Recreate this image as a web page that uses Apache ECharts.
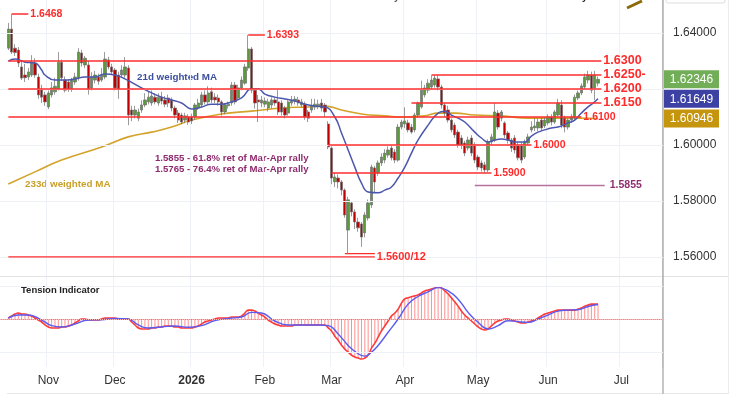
<!DOCTYPE html>
<html><head><meta charset="utf-8">
<script src="https://cdn.jsdelivr.net/npm/echarts@6/dist/echarts.min.js"></script>
<style>html,body{margin:0;padding:0;background:#fff;}#c{width:735px;height:400px;}</style>
</head><body><div id="c"></div>
<script>
// ---- categories: weekday dates ----
const START = [2025, 9, 14], END = [2026, 6, 17];
const FIRST = 2; // index of first candle
const monthNames = ['Jan','Feb','Mar','Apr','May','Jun','Jul','Aug','Sep','Oct','Nov','Dec'];

// ---- OHLC: [open, close, low, high] ----
const candles = [
[1.6346,1.6414,1.6339,1.6436],[1.6414,1.6332,1.6325,1.6468],[1.6346,1.6330,1.6318,1.6360],[1.6339,1.6293,1.6279,1.6350],
[1.6279,1.6239,1.6232,1.6304],[1.6250,1.6240,1.6225,1.6290],[1.6243,1.6261,1.6232,1.6275],[1.6250,1.6296,1.6243,1.6321],
[1.6293,1.6250,1.6240,1.6310],[1.6243,1.6179,1.6165,1.6255],[1.6200,1.6171,1.6150,1.6215],[1.6179,1.6154,1.6140,1.6190],
[1.6136,1.6186,1.6128,1.6195],[1.6179,1.6204,1.6170,1.6225],[1.6190,1.6210,1.6180,1.6240],
[1.6200,1.6296,1.6195,1.6332],[1.6296,1.6240,1.6230,1.6305],[1.6232,1.6196,1.6188,1.6245],[1.6225,1.6198,1.6190,1.6235],
[1.6200,1.6232,1.6190,1.6240],[1.6225,1.6243,1.6215,1.6258],[1.6239,1.6332,1.6230,1.6346],[1.6329,1.6293,1.6280,1.6340],
[1.6286,1.6310,1.6275,1.6318],[1.6286,1.6200,1.6180,1.6300],[1.6204,1.6243,1.6195,1.6260],
[1.6232,1.6250,1.6220,1.6265],[1.6243,1.6228,1.6215,1.6255],[1.6232,1.6250,1.6225,1.6275],[1.6243,1.6307,1.6235,1.6332],
[1.6304,1.6279,1.6270,1.6315],[1.6279,1.6261,1.6250,1.6290],[1.6268,1.6204,1.6195,1.6275],[1.6250,1.6200,1.6165,1.6262],
[1.6250,1.6268,1.6240,1.6285],[1.6250,1.6279,1.6240,1.6314],[1.6275,1.6107,1.6071,1.6285],
[1.6125,1.6107,1.6085,1.6140],[1.6107,1.6125,1.6095,1.6140],[1.6096,1.6118,1.6085,1.6130],[1.6125,1.6143,1.6115,1.6160],
[1.6143,1.6161,1.6135,1.6185],[1.6154,1.6171,1.6145,1.6190],[1.6150,1.6175,1.6140,1.6195],[1.6171,1.6154,1.6145,1.6185],
[1.6150,1.6171,1.6140,1.6185],[1.6171,1.6157,1.6145,1.6190],[1.6161,1.6146,1.6135,1.6175],
[1.6168,1.6150,1.6135,1.6180],[1.6161,1.6132,1.6120,1.6170],[1.6132,1.6107,1.6095,1.6140],[1.6114,1.6089,1.6078,1.6125],
[1.6107,1.6082,1.6075,1.6115],[1.6089,1.6104,1.6078,1.6115],[1.6100,1.6082,1.6072,1.6110],[1.6100,1.6086,1.6075,1.6112],
[1.6100,1.6143,1.6090,1.6150],[1.6132,1.6150,1.6125,1.6165],[1.6143,1.6179,1.6135,1.6190],[1.6179,1.6154,1.6145,1.6195],
[1.6154,1.6186,1.6145,1.6210],[1.6190,1.6161,1.6150,1.6205],[1.6171,1.6161,1.6150,1.6185],[1.6168,1.6154,1.6140,1.6180],
[1.6154,1.6118,1.6105,1.6160],[1.6118,1.6143,1.6110,1.6150],[1.6140,1.6146,1.6130,1.6155],[1.6150,1.6214,1.6140,1.6225],
[1.6214,1.6154,1.6145,1.6225],[1.6168,1.6204,1.6160,1.6215],[1.6204,1.6232,1.6195,1.6245],[1.6221,1.6279,1.6215,1.6290],
[1.6275,1.6343,1.6265,1.6393],[1.6343,1.6196,1.6185,1.6350],[1.6196,1.6150,1.6130,1.6200],[1.6161,1.6154,1.6082,1.6179],
[1.6150,1.6161,1.6135,1.6175],[1.6146,1.6157,1.6135,1.6170],[1.6132,1.6154,1.6120,1.6165],[1.6143,1.6161,1.6130,1.6170],
[1.6161,1.6150,1.6140,1.6170],[1.6154,1.6118,1.6107,1.6196],[1.6150,1.6118,1.6105,1.6160],[1.6132,1.6107,1.6095,1.6140],
[1.6114,1.6154,1.6105,1.6160],[1.6150,1.6161,1.6140,1.6175],[1.6157,1.6164,1.6145,1.6175],[1.6161,1.6150,1.6140,1.6172],
[1.6143,1.6154,1.6135,1.6165],[1.6146,1.6100,1.6090,1.6155],[1.6118,1.6096,1.6082,1.6125],[1.6125,1.6140,1.6115,1.6165],
[1.6136,1.6146,1.6125,1.6165],[1.6140,1.6146,1.6128,1.6162],[1.6150,1.6132,1.6120,1.6165],[1.6143,1.6118,1.6100,1.6150],
[1.6075,1.5993,1.5985,1.6085],[1.5989,1.5882,1.5860,1.5995],[1.5868,1.5886,1.5850,1.5900],[1.5882,1.5868,1.5845,1.5895],
[1.5868,1.5839,1.5820,1.5875],[1.5839,1.5750,1.5740,1.5845],[1.5696,1.5804,1.5612,1.5815],[1.5793,1.5761,1.5745,1.5800],
[1.5761,1.5725,1.5700,1.5770],[1.5725,1.5704,1.5690,1.5740],[1.5718,1.5671,1.5636,1.5725],[1.5686,1.5750,1.5670,1.5760],
[1.5739,1.5793,1.5730,1.5805],[1.5786,1.5921,1.5775,1.5930],[1.5918,1.5868,1.5830,1.5925],[1.5900,1.5936,1.5890,1.5945],
[1.5936,1.5957,1.5925,1.5970],[1.5946,1.5971,1.5935,1.5985],[1.5964,1.5982,1.5955,1.5995],[1.5989,1.5954,1.5945,1.6000],
[1.5975,1.5946,1.5935,1.5985],[1.5946,1.6064,1.5940,1.6075],[1.6064,1.6082,1.6055,1.6090],[1.6075,1.6086,1.6060,1.6135],
[1.6079,1.6054,1.6045,1.6090],[1.6064,1.6046,1.6040,1.6075],[1.6054,1.6107,1.6045,1.6115],[1.6107,1.6150,1.6100,1.6155],
[1.6136,1.6196,1.6130,1.6230],[1.6179,1.6204,1.6170,1.6215],[1.6196,1.6221,1.6185,1.6235],[1.6207,1.6232,1.6200,1.6248],
[1.6214,1.6239,1.6205,1.6250],[1.6236,1.6207,1.6195,1.6250],[1.6207,1.6143,1.6130,1.6215],[1.6143,1.6114,1.6100,1.6150],
[1.6125,1.6089,1.6080,1.6140],[1.6089,1.6054,1.6045,1.6095],[1.6071,1.6036,1.6025,1.6080],[1.6046,1.6000,1.5990,1.6055],
[1.6025,1.6000,1.5985,1.6035],[1.6007,1.5971,1.5960,1.6015],[1.5989,1.6018,1.5980,1.6030],[1.6025,1.5971,1.5960,1.6035],
[1.6000,1.5946,1.5935,1.6010],[1.5957,1.5921,1.5910,1.5965],[1.5936,1.5918,1.5905,1.5945],[1.5929,1.5911,1.5900,1.5940],
[1.5911,1.6011,1.5903,1.6020],[1.6011,1.6029,1.6000,1.6040],[1.6018,1.6118,1.6010,1.6150],[1.6114,1.6064,1.6055,1.6125],
[1.6096,1.6118,1.6085,1.6125],[1.6079,1.6036,1.6025,1.6085],[1.6043,1.6018,1.6005,1.6050],[1.6018,1.5989,1.5975,1.6025],
[1.6025,1.5982,1.5970,1.6035],[1.6000,1.5954,1.5945,1.6010],[1.6000,1.5946,1.5935,1.6010],[1.5957,1.6011,1.5950,1.6020],
[1.6007,1.6029,1.6000,1.6040],[1.6054,1.6064,1.6045,1.6085],[1.6061,1.6068,1.6050,1.6095],[1.6061,1.6082,1.6050,1.6095],
[1.6089,1.6061,1.6050,1.6100],[1.6068,1.6089,1.6060,1.6100],[1.6079,1.6100,1.6070,1.6110],[1.6100,1.6082,1.6070,1.6110],
[1.6082,1.6118,1.6075,1.6125],[1.6107,1.6150,1.6100,1.6165],[1.6143,1.6071,1.6060,1.6160],[1.6096,1.6064,1.6045,1.6105],
[1.6064,1.6089,1.6055,1.6095],[1.6089,1.6100,1.6080,1.6110],[1.6100,1.6171,1.6090,1.6180],[1.6168,1.6186,1.6160,1.6195],
[1.6186,1.6211,1.6178,1.6220],[1.6207,1.6243,1.6200,1.6255],[1.6232,1.6250,1.6220,1.6265],[1.6250,1.6196,1.6185,1.6262],
[1.6204,1.6250,1.6160,1.6265],[1.6221,1.62346,1.6210,1.6245]
];

// ---- moving averages: [categoryIndex, value] ----
const wma21 = [[2,1.6300],[4,1.6307],[7,1.6296],[10,1.6293],[12,1.6268],[13,1.6250],[16,1.6232],[19,1.6232],[22,1.6236],
[25,1.6243],[28,1.6243],[31,1.6254],[34,1.6250],[37,1.6236],[42,1.6204],[45,1.6186],[48,1.6171],[51,1.6161],[54,1.6150],
[57,1.6129],[60,1.6136],[63,1.6146],[66,1.6146],[69,1.6154],[72,1.6168],[75,1.6200],[77,1.6200],[79,1.6182],[82,1.6171],
[85,1.6164],[88,1.6157],[91,1.6146],[94,1.6139],[97,1.6136],[100,1.6100],[102,1.6043],[104,1.5982],[106,1.5921],[108,1.5864],
[110,1.5832],[113,1.5829],[115,1.5839],[117,1.5850],[119,1.5882],[121,1.5921],[123,1.5971],[125,1.6018],[128,1.6071],
[131,1.6114],[133,1.6121],[135,1.6107],[137,1.6096],[139,1.6082],[142,1.6046],[144,1.6025],[146,1.6011],[148,1.6018],
[150,1.6021],[152,1.6018],[154,1.6011],[157,1.6011],[159,1.6032],[161,1.6046],[163,1.6054],[165,1.6061],[167,1.6064],
[170,1.6079],[172,1.6089],[174,1.6114],[176,1.6136],[178,1.6154],[179,1.61649]];
const wma233 = [[2,1.5861],[10,1.5904],[18,1.5946],[30,1.5993],[38,1.6029],[45,1.6046],[51,1.6064],[57,1.6089],[66,1.6111],
[75,1.6121],[84,1.6132],[92,1.6136],[97,1.6139],[102,1.6125],[108,1.6111],[115,1.6104],[121,1.6100],[127,1.6104],[131,1.6114],
[136,1.6114],[142,1.6107],[150,1.6104],[158,1.6096],[166,1.6096],[173,1.6096],[179,1.60946]];

// ---- Tension indicator (per candle) and its signal line ----
const tension = [0.03,0.09,0.15,0.18,0.15,0.15,0.12,0.09,0.03,-0.03,
-0.09,-0.18,-0.24,-0.27,-0.27,-0.27,-0.24,-0.24,-0.21,-0.18,
-0.12,-0.06,0,0,-0.03,-0.03,-0.03,-0.03,0,0.03,
0.03,0.03,0.03,0,0,0,0,-0.09,-0.18,-0.27,
-0.30,-0.30,-0.30,-0.27,-0.27,-0.24,-0.24,-0.21,-0.21,-0.21,
-0.24,-0.24,-0.27,-0.27,-0.27,-0.27,-0.24,-0.21,-0.15,-0.09,
-0.06,-0.03,0,0.03,0.03,0.03,0.03,0.06,0.06,0.06,
0.09,0.18,0.27,0.27,0.24,0.18,0.12,0.06,-0.03,-0.09,
-0.15,-0.18,-0.21,-0.21,-0.21,-0.21,-0.18,-0.18,-0.18,-0.18,
-0.18,-0.18,-0.18,-0.18,-0.18,-0.18,-0.27,-0.36,-0.52,-0.64,
-0.79,-0.91,-1.0,-1.09,-1.15,-1.18,-1.21,-1.18,-1.09,-0.88,
-0.73,-0.55,-0.36,-0.21,-0.06,0.09,0.18,0.30,0.48,0.61,
0.64,0.67,0.70,0.73,0.79,0.85,0.88,0.91,0.94,0.97,
0.94,0.85,0.76,0.64,0.52,0.39,0.24,0.12,0.03,-0.06,
-0.15,-0.24,-0.30,-0.33,-0.30,-0.21,-0.12,-0.06,-0.03,0,
0,-0.03,-0.06,-0.09,-0.12,-0.12,-0.09,-0.06,-0.03,0.03,
0.09,0.15,0.18,0.21,0.24,0.27,0.27,0.27,0.27,0.27,
0.27,0.30,0.33,0.39,0.42,0.45,0.45,0.45];
const signal = [[2,0.03],[5,0.12],[8,0.12],[12,-0.03],[15,-0.20],[18,-0.24],[22,-0.15],[26,-0.03],[30,-0.02],[34,0.02],
[38,0.0],[41,-0.18],[44,-0.27],[48,-0.24],[52,-0.21],[56,-0.25],[60,-0.20],[64,-0.05],[68,0.02],[72,0.06],[75,0.20],
[78,0.18],[82,-0.06],[86,-0.18],[90,-0.18],[95,-0.18],[98,-0.20],[101,-0.45],[104,-0.80],[107,-1.05],[109,-1.12],
[111,-1.00],[113,-0.80],[116,-0.40],[119,0.0],[122,0.45],[125,0.68],[128,0.82],[131,0.95],[134,0.85],[137,0.60],
[140,0.20],[143,-0.10],[146,-0.30],[149,-0.20],[152,-0.05],[155,-0.08],[158,-0.10],[161,0.0],[164,0.12],[167,0.24],
[170,0.27],[173,0.28],[176,0.38],[179,0.44]];

// ---- axis ticks and annotated levels ----
const yTicks = [1.56, 1.58, 1.60, 1.62, 1.64];
const yTickLabels = [1.56, 1.58, 1.60, 1.64]; // 1.62000 sits under the price tags
const levelValues = [1.6300, 1.6250, 1.6200, 1.6150, 1.6100, 1.6000, 1.5900, 1.5600, 1.5612, 1.6468, 1.6393, 1.5855];
const levelFrom   = [2, 129, 2, 123, 2, 98, 99, 2, 103, 3, 74, 142];
const levelTo     = [180, 180, 180, 180, 174, 159, 147, 112, 112, 8, 79, 181];
const levelText   = ['1.6300','1.6250-','1.6200','1.6150','1.6100','1.6000','1.5900','1.5600/12','','1.6468','1.6393','1.5855'];
const levelSize   = [12.5, 12.5, 12.5, 12.5, 10.5, 10.5, 10.5, 11, 11, 10.5, 10.5, 10.5];
const lastClose = 1.62346, lastWma21 = 1.61649, lastWma233 = 1.60946;

// build categories
const cats = [];
const d = new Date(Date.UTC(START[0], START[1], START[2]));
const endT = Date.UTC(END[0], END[1], END[2]);
while (d.getTime() <= endT) {
  const w = d.getUTCDay();
  if (w !== 0 && w !== 6) cats.push(d.toISOString().slice(0, 10));
  d.setUTCDate(d.getUTCDate() + 1);
}
const isMonthStart = (i) => i > 0 && cats[i].slice(5, 7) !== cats[i - 1].slice(5, 7);
const pad = Array(FIRST).fill('-');
const candleData = pad.concat(candles);
const tensionData = pad.concat(tension);

const FONT = 'Liberation Sans';

const levelSeries = levelValues.map((v, k) => {
  const fib = v === 1.5855;
  return {
    type: 'line', xAxisIndex: 0, yAxisIndex: 0, silent: true, z: 5, symbol: 'none', showSymbol: false,
    data: [[levelFrom[k], v], [levelTo[k], v]],
    lineStyle: { color: fib ? '#b8709f' : '#ff2e2e', width: fib ? 1.5 : 1.3 },
    endLabel: { show: levelText[k] !== '', formatter: levelText[k], color: fib ? '#8f2f72' : '#ff2b2b',
      fontWeight: 'bold', fontSize: levelSize[k], fontFamily: FONT, distance: fib ? 5 : 2 }
  };
});

const splitCommon = { show: true, interval: (i) => isMonthStart(i), lineStyle: { color: '#eef1f5', width: 1 } };
const gridLine = { color: '#edf0f4', width: 1, type: 'solid' };

const baseGraphics = [
  { type: 'line', shape: { x1: 0, y1: 276.5, x2: 728, y2: 276.5 }, style: { stroke: '#e3e3e3', lineWidth: 1 }, silent: true },
  { type: 'line', shape: { x1: 7, y1: 393.5, x2: 728, y2: 393.5 }, style: { stroke: '#e8e8e8', lineWidth: 1 }, silent: true },
  { type: 'line', shape: { x1: 663, y1: 0, x2: 663, y2: 394 }, style: { stroke: '#b5b5b5', lineWidth: 1.5 }, silent: true },
  { type: 'line', shape: { x1: 728.5, y1: 0, x2: 728.5, y2: 394 }, style: { stroke: '#ececec', lineWidth: 1 }, silent: true },
  { type: 'rect', shape: { x: 666, y: -10, width: 59, height: 13, r: 2 }, style: { fill: 'none', stroke: '#dddddd' }, silent: true },
  { type: 'line', shape: { x1: 627, y1: 8, x2: 642, y2: 1 }, style: { stroke: '#8c6a0c', lineWidth: 3 }, silent: true },
  { type: 'text', x: 330, y: -3, style: { text: 'EURAUD Daily Chart', fill: '#555', font: 'bold 10px "Liberation Sans"', verticalAlign: 'middle' }, silent: true },
  { type: 'text', x: 553, y: -3, style: { text: '1-2 day view', fill: '#222', font: 'bold 10px "Liberation Sans"', verticalAlign: 'middle' }, silent: true },
  { type: 'text', x: 137, y: 77, style: { text: '21d weighted MA', fill: '#3d4f9f', font: 'bold 9.8px "Liberation Sans"', verticalAlign: 'middle' }, silent: true },
  { type: 'text', x: 25, y: 184, style: { text: '233d weighted MA', fill: '#c9a02a', font: 'bold 9.8px "Liberation Sans"', verticalAlign: 'middle' }, silent: true },
  { type: 'text', x: 155, y: 158, style: { text: '1.5855 - 61.8% ret of Mar-Apr rally', fill: '#8e2b6e', font: 'bold 9.6px "Liberation Sans"', verticalAlign: 'middle' }, silent: true },
  { type: 'text', x: 155, y: 169, style: { text: '1.5765 - 76.4% ret of Mar-Apr rally', fill: '#8e2b6e', font: 'bold 9.6px "Liberation Sans"', verticalAlign: 'middle' }, silent: true },
  { type: 'text', x: 21, y: 290, z: 100, style: { text: 'Tension Indicator', fill: '#222', font: 'bold 9.5px "Liberation Sans"', verticalAlign: 'middle' }, silent: true }
];

const chart = echarts.init(document.getElementById('c'), null, { renderer: 'canvas' });
chart.setOption({
  animation: false,
  backgroundColor: '#fff',
  grid: [
    { left: 0, right: 72, top: 0, height: 276 },
    { left: 0, right: 72, top: 277, height: 90 }
  ],
  xAxis: [
    { type: 'category', gridIndex: 0, data: cats, boundaryGap: true,
      axisLabel: { show: false }, axisTick: { show: false }, axisLine: { show: false }, splitLine: splitCommon },
    { type: 'category', gridIndex: 1, data: cats, boundaryGap: true,
      axisTick: { show: false },
      axisLine: { show: true, lineStyle: { color: '#a8a8a8', width: 1 } },
      splitLine: splitCommon,
      axisLabel: { interval: (i) => isMonthStart(i), margin: 8, color: '#333', fontSize: 12, fontFamily: FONT,
        formatter: (val) => { const m = +val.slice(5, 7); return m === 1 ? '{b|' + val.slice(0, 4) + '}' : monthNames[m - 1]; },
        rich: { b: { fontWeight: 'bold', fontSize: 12, fontFamily: FONT, color: '#333' } } } }
  ],
  yAxis: [
    { type: 'value', gridIndex: 0, position: 'right', min: 1.5532, max: 1.6518, scale: true,
      splitLine: { show: false }, axisTick: { show: false },
      axisLine: { show: true, lineStyle: { color: '#b5b5b5', width: 1.5 } },
      axisLabel: { customValues: yTickLabels, formatter: (v) => v.toFixed(5), margin: 10, color: '#333', fontSize: 12, fontFamily: FONT } },
    { type: 'value', gridIndex: 1, position: 'right', min: -1.45, max: 1.27,
      splitLine: { show: false }, axisTick: { show: false }, axisLabel: { show: false },
      axisLine: { show: true, lineStyle: { color: '#b5b5b5', width: 1.5 } } }
  ],
  series: [
    { type: 'line', xAxisIndex: 0, yAxisIndex: 0, data: [], silent: true, z: 1,
      markLine: { silent: true, symbol: ['none', 'none'], label: { show: false },
        data: yTicks.map(v => ({ yAxis: v, lineStyle: gridLine })) } },
    { type: 'line', name: '233d', xAxisIndex: 0, yAxisIndex: 0, data: wma233, smooth: true, showSymbol: false,
      lineStyle: { color: '#d3a32a', width: 1.6 }, z: 2, silent: true },
    { type: 'candlestick', xAxisIndex: 0, yAxisIndex: 0, data: candleData, barWidth: '85%', z: 3,
      itemStyle: { color: '#5a9a3a', color0: '#c00000', borderColor: '#707070', borderColor0: '#707070', borderWidth: 0.7 } },
    { type: 'line', name: '21d', xAxisIndex: 0, yAxisIndex: 0, data: wma21, smooth: true, showSymbol: false,
      lineStyle: { color: '#4b57ad', width: 1.5 }, z: 4, silent: true },
    ...levelSeries,
    // indicator panel
    { type: 'bar', xAxisIndex: 1, yAxisIndex: 1, data: tensionData, barWidth: 1, silent: true, z: 2,
      itemStyle: { color: 'rgba(255,70,70,0.6)' },
      markLine: { silent: true, symbol: ['none', 'none'], label: { show: false },
        data: [
          { yAxis: 1, lineStyle: gridLine },
          { yAxis: -1, lineStyle: gridLine },
          { yAxis: 0, lineStyle: { color: '#f6b8b8', width: 1, type: 'dotted' } }
        ] } },
    { type: 'line', xAxisIndex: 1, yAxisIndex: 1, data: tensionData, smooth: true, showSymbol: false, silent: true, z: 3,
      lineStyle: { color: '#ff3a3a', width: 1.6 } },
    { type: 'line', xAxisIndex: 1, yAxisIndex: 1, data: signal, smooth: true, showSymbol: false, silent: true, z: 4,
      lineStyle: { color: '#5b5bf2', width: 1.4 } }
  ],
  graphic: baseGraphics
});

// price tags on the right axis, placed through the y scale
const tagValues = [lastClose, lastWma21, lastWma233];
const tagColors = ['#72ae57', '#3c41a3', '#c5950e'];
const tagGraphics = tagValues.map((v, k) => {
  const y = chart.convertToPixel({ yAxisIndex: 0 }, v);
  return { type: 'group', x: 664, y: y - 9, silent: true, children: [
    { type: 'rect', z: 200, shape: { x: 0, y: 0, width: 55, height: 18 }, style: { fill: tagColors[k] } },
    { type: 'text', z: 201, x: 27.5, y: 9.5, style: { text: v.toFixed(5), fill: '#fff', font: '12px "Liberation Sans"', align: 'center', verticalAlign: 'middle' } }
  ] };
});
chart.setOption({ graphic: baseGraphics.concat(tagGraphics) });
</script>
</body></html>
